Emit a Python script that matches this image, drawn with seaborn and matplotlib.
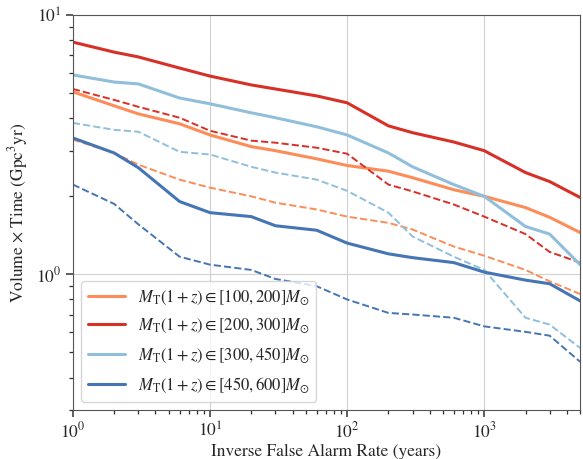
import numpy as np
import pandas as pd
import matplotlib
matplotlib.use("Agg")
import matplotlib.pyplot as plt
import seaborn as sns

ifar = [1, 2, 3, 6, 10, 20, 30, 60, 100, 200, 300, 600, 1000, 2000, 3000, 5000]

bins = ["[100, 200]", "[200, 300]", "[300, 450]", "[450, 600]"]
colors = ["#fc8d59", "#d73027", "#91bfdb", "#4575b4"]

# solid lines
vt_100_200 = [5.06, 4.47, 4.16, 3.81, 3.45, 3.11, 3.0, 2.79, 2.63, 2.5, 2.36, 2.12, 2.0, 1.81, 1.66, 1.45]
vt_200_300 = [7.87, 7.2, 6.9, 6.25, 5.82, 5.38, 5.19, 4.88, 4.59, 3.74, 3.52, 3.24, 3.0, 2.47, 2.28, 1.98]
vt_300_450 = [5.88, 5.52, 5.43, 4.79, 4.55, 4.2, 4.02, 3.71, 3.45, 2.94, 2.6, 2.22, 2.0, 1.53, 1.43, 1.09]
vt_450_600 = [3.36, 2.94, 2.58, 1.91, 1.73, 1.67, 1.54, 1.48, 1.32, 1.2, 1.16, 1.11, 1.02, 0.95, 0.92, 0.79]

# dashed lines
vt2_100_200 = [3.31, 2.94, 2.65, 2.32, 2.16, 2.0, 1.89, 1.78, 1.67, 1.58, 1.49, 1.28, 1.18, 1.04, 0.94, 0.84]
vt2_200_300 = [5.19, 4.71, 4.43, 4.02, 3.58, 3.28, 3.22, 3.08, 2.92, 2.22, 2.09, 1.86, 1.67, 1.43, 1.22, 1.11]
vt2_300_450 = [3.84, 3.61, 3.55, 2.97, 2.9, 2.6, 2.47, 2.32, 2.1, 1.73, 1.4, 1.17, 1.04, 0.68, 0.64, 0.52]
vt2_450_600 = [2.22, 1.87, 1.56, 1.17, 1.09, 1.04, 0.96, 0.90, 0.80, 0.71, 0.70, 0.68, 0.63, 0.60, 0.58, 0.46]

solid = [vt_100_200, vt_200_300, vt_300_450, vt_450_600]
dashed = [vt2_100_200, vt2_200_300, vt2_300_450, vt2_450_600]

sns.set_style("ticks", {"axes.grid": True, "grid.color": "#d0d0d0",
                        "axes.edgecolor": "#555555"})
plt.rcParams["font.family"] = "serif"
plt.rcParams["font.serif"] = ["STIXGeneral", "Liberation Serif", "DejaVu Serif"]
plt.rcParams["mathtext.fontset"] = "stix"

fig, ax = plt.subplots(figsize=(5.83, 4.59), dpi=100)

for b, c, s, d in zip(bins, colors, solid, dashed):
    lab = r"$M_{\mathrm{T}}(1+z)\in" + b.replace(" ", "") + r"M_{\odot}$"
    sns.lineplot(x=ifar, y=s, color=c, lw=2.2, label=lab, ax=ax)
    sns.lineplot(x=ifar, y=d, color=c, lw=1.4, ls="--", ax=ax)

ax.set_xscale("log")
ax.set_yscale("log")
ax.set_xlim(1, 5000)
ax.set_ylim(0.3, 10)
ax.grid(True, which="major", color="#d0d0d0", lw=0.8)
ax.grid(False, which="minor")
ax.tick_params(which="both", direction="out", bottom=True, left=True,
               top=False, right=False, color="#333333", labelsize=12.5)
ax.tick_params(which="major", length=5, width=1.1)
ax.tick_params(which="minor", length=3, width=0.9)
ax.set_xlabel("Inverse False Alarm Rate (years)", fontsize=12.5, labelpad=2)
ax.set_ylabel(r"Volume $\times$ Time (Gpc$^3$yr)", fontsize=12.5)
ax.legend(loc="lower left", fontsize=12, frameon=True, labelspacing=0.6,
          handlelength=2.2)
for sp in ax.spines.values():
    sp.set_visible(True)

plt.subplots_adjust(left=0.125, right=0.995, top=0.967, bottom=0.107)
plt.savefig("out.png", dpi=100)
plt.close()
